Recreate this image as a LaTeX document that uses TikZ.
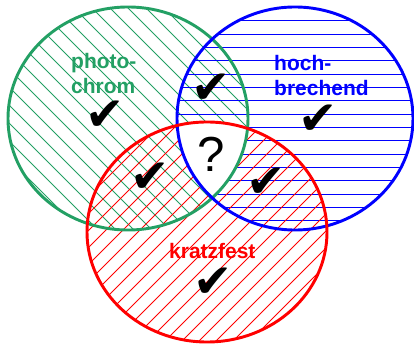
\documentclass[tikz,border=0pt]{standalone}
\usepackage{fontspec}
\setmainfont{Liberation Sans}
\newfontfamily\symfont{DejaVu Sans}
\definecolor{vgreen}{RGB}{35,160,100}

\begin{document}
\begin{tikzpicture}[
  x=0.03cm, y=-0.03cm,
  lbl/.style={font=\fontsize{17.9}{21.3}\selectfont\bfseries, align=left, inner sep=0pt},
  chk/.style={font=\symfont\fontsize{40}{40}\selectfont, inner sep=0pt},
  rim/.style={line width=2.5pt},
  hatch/.style={line width=0.8pt}
]
\useasboundingbox (0,0) rectangle (414,345);
% hatching
\begin{scope}
  \clip (128,118.5) ellipse [x radius=3.6cm, y radius=3.345cm];
  \foreach \c in {-240,-222,...,260}
    \draw[hatch, vgreen] (\c,0) -- ++(240,240);
\end{scope}
\begin{scope}
  \clip (295,118.5) ellipse [x radius=3.54cm, y radius=3.345cm];
  \foreach \k in {0,...,16}
    \draw[hatch, blue] (170,{20.7+13.33*\k}) -- (420,{20.7+13.33*\k});
\end{scope}
\begin{scope}
  \clip (207,232) ellipse [x radius=3.6cm, y radius=3.3cm];
  \foreach \c in {200,217,...,690}
    \draw[hatch, red] (\c,0) -- ++(-350,350);
\end{scope}
% common part stays white
\begin{scope}
  \clip (128,118.5) ellipse [x radius=3.6cm, y radius=3.345cm];
  \clip (295,118.5) ellipse [x radius=3.54cm, y radius=3.345cm];
  \fill[white] (207,232) ellipse [x radius=3.6cm, y radius=3.3cm];
\end{scope}
% rims
\draw[rim, vgreen] (128,118.5) ellipse [x radius=3.6cm, y radius=3.345cm];
\draw[rim, blue] (295,118.5) ellipse [x radius=3.54cm, y radius=3.345cm];
\draw[rim, red] (207,232) ellipse [x radius=3.6cm, y radius=3.3cm];
% labels
\node[lbl, vgreen, anchor=north west] (photo) at (71,53) {photo-\\chrom};
\node[lbl, blue, anchor=north west] (hoch) at (274,55) {hoch-\\brechend};
\node[lbl, red, anchor=base west] (kratz) at (169,259) {kratzfest};
\node[chk] (c1) at (105,116) {✔};
\node[chk] (c2) at (318,120) {✔};
\node[chk] (c3) at (211,89) {✔};
\node[chk] (c4) at (150,178) {✔};
\node[chk] (c5) at (266,183) {✔};
\node[chk] (c6) at (213,283) {✔};
\node[font=\fontsize{42}{42}\selectfont, inner sep=0pt] (qm) at (211,154) {?};
\end{tikzpicture}
\end{document}
